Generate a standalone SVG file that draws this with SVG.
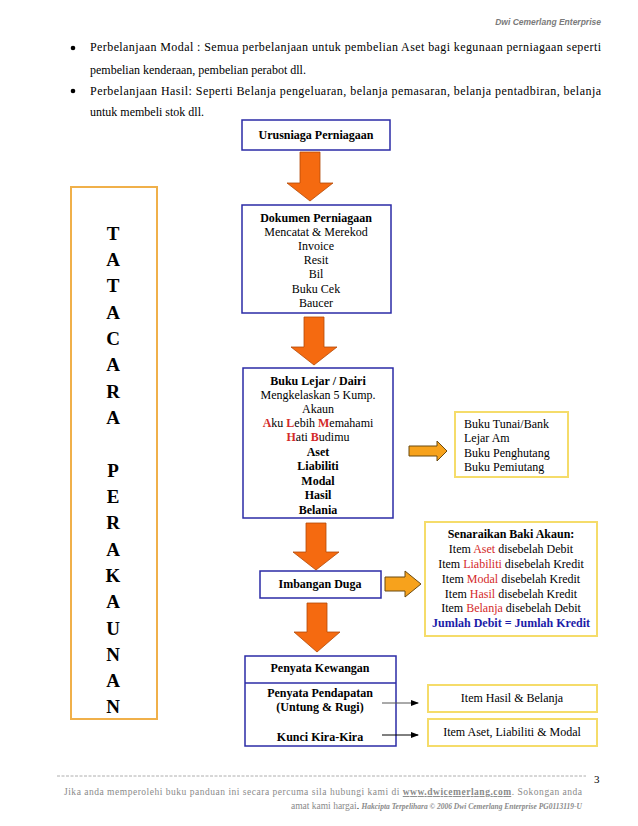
<svg xmlns="http://www.w3.org/2000/svg" width="638" height="826" viewBox="0 0 638 826">
<style>
text{font-family:"Liberation Serif","Times New Roman",serif;font-size:12px;fill:#000}
.c{text-anchor:middle}
.b{font-weight:bold}
.red{fill:#d42a2a}
.blue{fill:#1c1ca8}
.box{fill:#fff;stroke:#2b2ba6;stroke-width:1.5}
.ybox{fill:#fff;stroke:#f5dc6a;stroke-width:2}
.obox{fill:#fff;stroke:#f0b04a;stroke-width:2}
.down{fill:#f56a10;stroke:#b34a08;stroke-width:0.8}
.right{fill:#f7a21c;stroke:#6b4a10;stroke-width:1}
.big{font-size:19px;font-weight:bold;text-anchor:middle}
.foot{fill:#8a8a8a;font-size:9.5px}
</style>
<defs>
<marker id="ah" markerWidth="8" markerHeight="6" refX="7" refY="3" orient="auto" markerUnits="userSpaceOnUse">
<path d="M0,0 L8,3 L0,6 Z" fill="#000"/>
</marker>
</defs>
<rect width="638" height="826" fill="#fff"/>

<text x="601" y="25" style="font-family:'Liberation Sans',Arial,sans-serif;font-size:8.5px;font-style:italic;font-weight:bold;fill:#7a7a7a;text-anchor:end">Dwi Cemerlang Enterprise</text>

<g id="bullets">
<circle cx="73" cy="48" r="2.3" fill="#000"/>
<text x="90" y="51" textLength="511" lengthAdjust="spacing">Perbelanjaan Modal : Semua perbelanjaan untuk pembelian Aset bagi kegunaan perniagaan seperti</text>
<text x="90" y="74">pembelian kenderaan, pembelian perabot dll.</text>
<circle cx="73" cy="91" r="2.3" fill="#000"/>
<text x="90" y="95" textLength="511" lengthAdjust="spacing">Perbelanjaan Hasil: Seperti Belanja pengeluaran, belanja pemasaran, belanja pentadbiran, belanja</text>
<text x="90" y="116">untuk membeli stok dll.</text>
</g>

<g id="tatacara">
<rect class="obox" x="71" y="187" width="86" height="532"/>
<text class="big" x="113" y="240">T</text>
<text class="big" x="113" y="266">A</text>
<text class="big" x="113" y="292">T</text>
<text class="big" x="113" y="319">A</text>
<text class="big" x="113" y="345">C</text>
<text class="big" x="113" y="371">A</text>
<text class="big" x="113" y="398">R</text>
<text class="big" x="113" y="424">A</text>
<text class="big" x="113" y="477">P</text>
<text class="big" x="113" y="503">E</text>
<text class="big" x="113" y="529">R</text>
<text class="big" x="113" y="556">A</text>
<text class="big" x="113" y="582">K</text>
<text class="big" x="113" y="608">A</text>
<text class="big" x="113" y="635">U</text>
<text class="big" x="113" y="661">N</text>
<text class="big" x="113" y="687">A</text>
<text class="big" x="113" y="713">N</text>
</g>

<g id="urusniaga">
<rect class="box" x="242" y="120" width="148" height="30"/>
<text class="c b" x="316" y="139">Urusniaga Perniagaan</text>
</g>

<g id="dokumen">
<rect class="box" x="242" y="205" width="149" height="108"/>
<text class="c b" x="316" y="222">Dokumen Perniagaan</text>
<text class="c" x="316" y="236">Mencatat &amp; Merekod</text>
<text class="c" x="316" y="250">Invoice</text>
<text class="c" x="316" y="264">Resit</text>
<text class="c" x="316" y="278">Bil</text>
<text class="c" x="316" y="293">Buku Cek</text>
<text class="c" x="316" y="307">Baucer</text>
</g>

<g id="lejar">
<rect class="box" x="243" y="368" width="150" height="150"/>
<text class="c b" x="318" y="385">Buku Lejar / Dairi</text>
<text class="c" x="318" y="399">Mengkelaskan 5 Kump.</text>
<text class="c" x="318" y="413">Akaun</text>
<text class="c" x="318" y="427"><tspan class="red b">A</tspan>ku <tspan class="red b">L</tspan>ebih <tspan class="red b">M</tspan>emahami</text>
<text class="c" x="318" y="441"><tspan class="red b">H</tspan>ati <tspan class="red b">B</tspan>udimu</text>
<text class="c b" x="318" y="456">Aset</text>
<text class="c b" x="318" y="470">Liabiliti</text>
<text class="c b" x="318" y="485">Modal</text>
<text class="c b" x="318" y="499">Hasil</text>
<text class="c b" x="318" y="514">Belania</text>
</g>

<g id="bukutunai">
<rect class="ybox" x="455" y="412" width="113" height="65"/>
<text x="464" y="428">Buku Tunai/Bank</text>
<text x="464" y="442">Lejar Am</text>
<text x="464" y="457">Buku Penghutang</text>
<text x="464" y="471">Buku Pemiutang</text>
</g>

<g id="imbangan">
<rect class="box" x="260" y="571" width="121" height="27"/>
<text class="c b" x="320" y="588">Imbangan Duga</text>
</g>

<g id="senaraikan">
<rect class="ybox" x="425" y="522" width="172" height="114"/>
<text class="c b" x="511" y="538">Senaraikan Baki Akaun:</text>
<text class="c" x="511" y="553">Item <tspan class="red">Aset</tspan> disebelah Debit</text>
<text class="c" x="511" y="568">Item <tspan class="red">Liabiliti</tspan> disebelah Kredit</text>
<text class="c" x="511" y="583">Item <tspan class="red">Modal</tspan> disebelah Kredit</text>
<text class="c" x="511" y="598">Item <tspan class="red">Hasil</tspan> disebelah Kredit</text>
<text class="c" x="511" y="612">Item <tspan class="red">Belanja</tspan> disebelah Debit</text>
<text class="c b blue" x="511" y="627">Jumlah Debit = Jumlah Kredit</text>
</g>

<g id="penyata">
<rect class="box" x="245" y="656" width="151" height="90"/>
<line x1="245" y1="683" x2="396" y2="683" stroke="#2b2ba6" stroke-width="1.5"/>
<text class="c b" x="320" y="672">Penyata Kewangan</text>
<text class="c b" x="320" y="697">Penyata Pendapatan</text>
<text class="c b" x="320" y="711">(Untung &amp; Rugi)</text>
<text class="c b" x="320" y="741">Kunci Kira-Kira</text>
</g>

<g id="itemhasil">
<rect class="ybox" x="428" y="685" width="169" height="27"/>
<text class="c" x="512" y="702">Item Hasil &amp; Belanja</text>
</g>

<g id="itemaset">
<rect class="ybox" x="428" y="719" width="169" height="27"/>
<text class="c" x="512" y="736">Item Aset, Liabiliti &amp; Modal</text>
</g>

<g id="connectors">
<path class="down" d="M300,152 H320 V183 H333 L310,201 L287,183 H300 Z"/>
<path class="down" d="M304,317 H324 V347 H337 L314,365 L291,347 H304 Z"/>
<path class="down" d="M306,523 H326 V552 H339 L316,570 L293,552 H306 Z"/>
<path class="down" d="M307,603 H327 V632 H340 L317,652 L294,632 H307 Z"/>
<path class="right" d="M409,446 H437 V441 L447,451 L437,461 V456 H409 Z"/>
<path class="right" d="M385,577 H405 V571 L421,584 L405,597 V591 H385 Z"/>
<line x1="382" y1="703" x2="418" y2="703" stroke="#555" stroke-width="1" marker-end="url(#ah)"/>
<line x1="382" y1="735" x2="418" y2="735" stroke="#000" stroke-width="1" marker-end="url(#ah)"/>
</g>

<g id="footer">
<line x1="57" y1="776" x2="586" y2="776" stroke="#999" stroke-width="0.8" stroke-dasharray="3,1.5"/>
<text x="594" y="783" style="font-size:11px">3</text>
<text class="foot" x="64" y="795" textLength="518" lengthAdjust="spacing">Jika anda memperolehi buku panduan ini secara percuma sila hubungi kami di <tspan font-weight="bold" text-decoration="underline">www.dwicemerlang.com</tspan>. Sokongan anda</text>
<text class="foot" x="582" y="809" text-anchor="end">amat kami hargai<tspan fill="#000">.</tspan> <tspan style="font-size:7.5px;font-style:italic;font-weight:bold">Hakcipta Terpelihara © 2006 Dwi Cemerlang Enterprise PG0113119-U</tspan></text>
</g>
</svg>
